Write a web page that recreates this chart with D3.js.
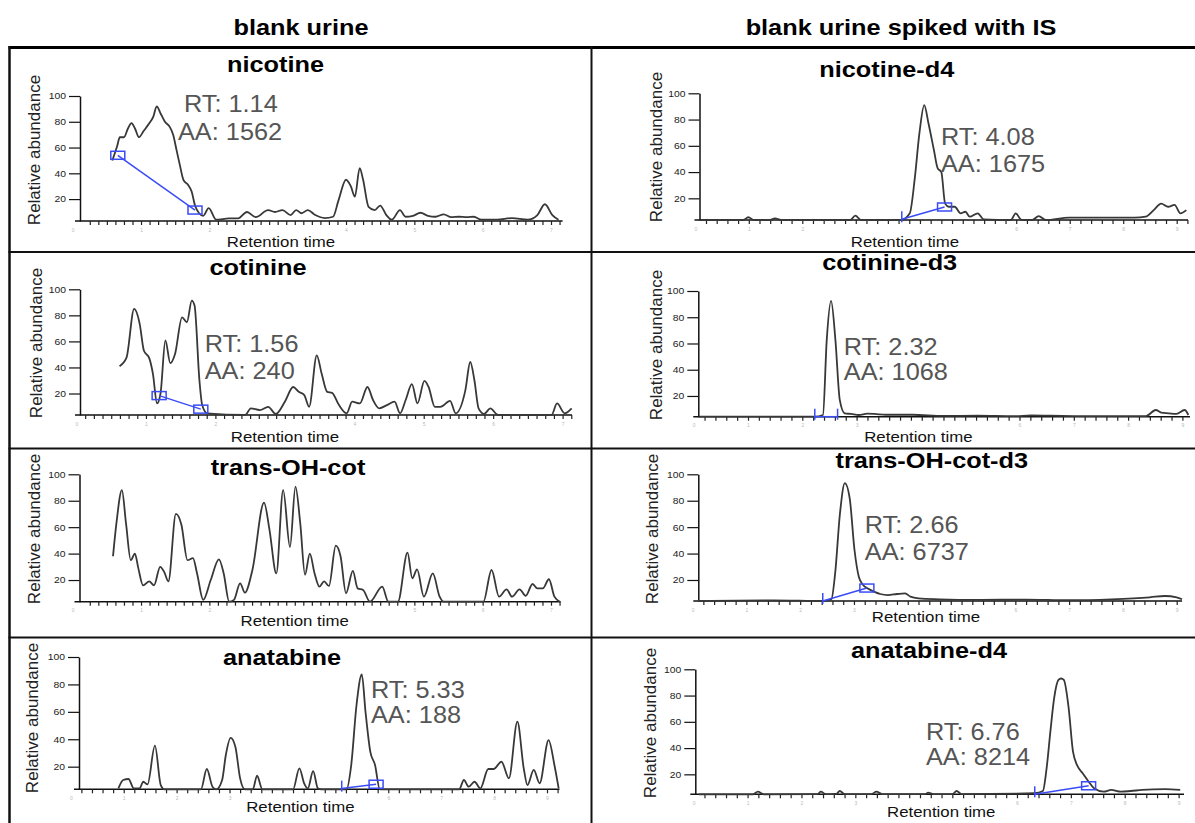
<!DOCTYPE html>
<html>
<head>
<meta charset="utf-8">
<script src="https://cdn.jsdelivr.net/npm/d3@7"></script>
<style>
body { margin: 0; background: #fff; }
text { font-family: Arial, "Liberation Sans", sans-serif; }
</style>
</head>
<body>
<svg id="chart" width="1195" height="823"></svg>
<script>
// column headers and panel titles
var headers = ["blank urine", "blank urine spiked with IS"];
var titles = ["nicotine", "nicotine-d4", "cotinine", "cotinine-d3",
              "trans-OH-cot", "trans-OH-cot-d3", "anatabine", "anatabine-d4"];
var rtLabels = ["RT: 1.14", "RT: 4.08", "RT: 1.56", "RT: 2.32", null, "RT: 2.66", "RT: 5.33", "RT: 6.76"];
var aaLabels = ["AA: 1562", "AA: 1675", "AA: 240", "AA: 1068", null, "AA: 6737", "AA: 188", "AA: 8214"];
var yTicks = [20, 40, 60, 80, 100];
var xMax = [7, 9, 7, 9, 7, 9, 9, 9];

// traces: [retention time, relative abundance]
var nicotine = [[0.58,50],[0.65,61],[0.69,68],[0.75,68],[0.81,75],[0.86,79],[0.91,75],[0.97,68],[1.04,73],[1.11,78],
  [1.18,84],[1.23,92],[1.29,86],[1.35,80],[1.42,76],[1.47,70],[1.52,58],[1.57,46],[1.62,35],[1.69,31],[1.74,26],
  [1.79,15],[1.85,9],[1.91,7],[1.99,13],[2.10,4],[2.29,5],[2.42,5],[2.55,10],[2.68,6],[2.86,11.5],[2.96,10],
  [3.07,11.5],[3.19,7.6],[3.27,11.5],[3.35,9],[3.44,11.5],[3.55,7.6],[3.69,5.3],[3.81,6.3],[3.89,19],[4.00,35],
  [4.07,30],[4.13,22],[4.20,44],[4.25,35],[4.33,14],[4.42,11.5],[4.50,15],[4.59,7.6],[4.67,4],[4.79,11.5],
  [4.87,6.3],[4.98,7],[5.09,9.4],[5.20,7],[5.31,6.3],[5.43,8.2],[5.54,6],[5.65,6.3],[5.77,6],[5.87,6.3],[5.98,4],
  [6.21,4],[6.43,5.3],[6.66,4],[6.80,7.6],[6.91,16],[7.02,7.6],[7.11,4]];
var nicotineD4 = [[0.1,3.5],[0.9,3.5],[0.99,5.6],[1.1,3.5],[1.4,3.5],[1.49,4.8],[1.6,3.5],[2.9,3.5],[2.99,6.8],
  [3.1,3.5],[3.85,3.5],[4.01,8.6],[4.10,34],[4.19,69.6],[4.28,91],[4.36,77],[4.46,57],[4.53,43],[4.60,40],
  [4.67,16],[4.74,13.6],[4.85,13.6],[4.96,8.6],[5.05,9.8],[5.13,6],[5.28,8.6],[5.39,4],[5.9,3.5],[5.99,8.6],
  [6.1,3.5],[6.3,3.5],[6.42,6.5],[6.55,3.5],[6.99,5.3],[7.35,5.3],[8.21,5.3],[8.42,6],[8.57,11],[8.71,16],
  [8.84,13.6],[8.96,15],[9.07,8.6],[9.18,11]];
var cotinine = [[0.62,41],[0.72,47.5],[0.83,85],[0.91,73.5],[0.97,53],[1.05,46.8],[1.10,35.3],[1.16,12.4],[1.21,20],
  [1.28,60.8],[1.35,43.4],[1.42,50.6],[1.52,78.5],[1.59,74.7],[1.66,91.3],[1.70,87.5],[1.77,30.2],[1.81,11.1],
  [1.88,4.8],[2.43,3.5],[2.51,8.6],[2.64,7.3],[2.76,9.8],[2.87,4.3],[3.0,13.7],[3.12,25],[3.20,21.3],[3.28,18.8],
  [3.35,9.8],[3.46,49.3],[3.53,35.3],[3.61,21.3],[3.68,20.5],[3.78,11.1],[3.89,4.8],[3.97,13.7],[4.08,12.4],
  [4.19,25],[4.27,15],[4.36,8.6],[4.47,11.1],[4.58,13.7],[4.66,4.8],[4.74,15],[4.83,27.2],[4.91,12.4],[5.01,29.7],
  [5.07,25],[5.16,9.8],[5.24,9.8],[5.38,14.4],[5.46,4.8],[5.60,22.6],[5.67,44.2],[5.73,30.2],[5.79,8.6],[5.87,4.3],
  [5.96,8.6],[6.07,3.5],[6.84,3.5],[6.92,12.4],[7.03,4.8],[7.13,8.6]];
var cotinineD3 = [[0.1,4.2],[2.23,4.2],[2.38,5.5],[2.45,62.6],[2.53,92.4],[2.61,62.6],[2.69,17],[2.78,6.8],[2.90,6.3],
  [3.04,5.5],[3.2,6.5],[3.33,6.3],[3.54,5.7],[4.03,5.7],[4.6,4.8],[5.23,5],[5.9,4.6],[6.22,5.2],[6.57,5],[7.5,4.6],
  [8.33,4.7],[8.51,9.3],[8.61,7.3],[8.75,6.8],[8.89,6.3],[9.04,9.3],[9.11,5.5]];
var transOHcot = [[0.59,38],[0.64,63],[0.72,88],[0.78,63],[0.85,35],[0.91,40],[0.96,29],[1.03,16],[1.12,19],[1.19,16],
  [1.28,30],[1.34,26],[1.40,19],[1.51,70],[1.59,62],[1.68,35],[1.76,36.5],[1.82,25],[1.91,5],[2.02,20],[2.14,35.7],
  [2.21,25],[2.29,3.6],[2.36,5],[2.45,17.5],[2.52,10.4],[2.63,27.6],[2.80,78.6],[2.88,58],[2.98,25],[3.08,88],
  [3.18,45],[3.26,90.7],[3.33,63],[3.40,24],[3.47,40],[3.54,25],[3.61,15],[3.68,19],[3.75,15.5],[3.85,46],[3.92,38],
  [4.0,10],[4.10,27],[4.17,13.7],[4.25,12.5],[4.35,3.6],[4.53,15],[4.62,3.6],[4.76,3.6],[4.90,40.7],[4.97,21.3],
  [5.04,28],[5.14,7.4],[5.27,25],[5.37,7.4],[5.43,3.6],[6.01,3.6],[6.13,27.6],[6.24,7.4],[6.35,13],[6.43,7.4],
  [6.54,13],[6.63,8],[6.73,17],[6.80,13.7],[6.88,13.7],[6.97,20.6],[7.05,7.4],[7.13,3.6]];
var transOHcotD3 = [[0.1,4.1],[1.5,4.6],[2.45,4.1],[2.58,5.4],[2.65,25],[2.74,70.5],[2.83,93.3],[2.92,82],[3.01,42.7],
  [3.09,22.5],[3.17,16.2],[3.25,13.7],[3.38,11.1],[3.49,9.4],[3.63,8.6],[3.80,9.4],[3.95,9.9],[4.05,7.4],[4.20,6.1],
  [4.59,5.4],[5.30,4.9],[6.2,5.2],[7.0,4.7],[7.79,5.4],[8.50,6.9],[8.78,7.9],[9.00,6.9],[9.10,5.4]];
var anatabine = [[0.90,4.2],[0.99,10.3],[1.09,11],[1.19,4.2],[1.30,4.2],[1.37,9],[1.45,7.1],[1.59,35.3],[1.70,6.6],
  [1.77,3.5],[2.46,3.5],[2.57,18.3],[2.68,5.2],[2.75,3.5],[2.86,10.3],[2.93,28.5],[3.02,41],[3.11,34.6],[3.20,11.5],
  [3.29,3.5],[3.44,3.5],[3.52,13.4],[3.62,3.5],[4.20,3.5],[4.32,18.8],[4.41,7.9],[4.48,4.2],[4.58,16.8],[4.67,4.2],
  [4.74,3.5],[5.21,3.5],[5.30,21.2],[5.40,65],[5.50,87.3],[5.57,60],[5.66,31],[5.75,21.2],[5.84,3.5],[7.34,3.5],
  [7.43,10.3],[7.52,5.4],[7.63,9],[7.74,4.2],[7.89,18.3],[7.99,18.3],[8.14,23.6],[8.28,11.5],[8.44,52.8],[8.56,18.8],
  [8.63,6.6],[8.75,17.6],[8.86,7.9],[9.03,39.4],[9.14,21.2],[9.22,4.2]];
var anatabineD4 = [[0.1,4.8],[1.1,4.8],[1.19,6.8],[1.3,4.8],[2.3,5],[2.36,6.8],[2.45,5],[2.65,5.2],[2.71,7.3],[2.8,5],
  [3.3,5],[3.39,6.8],[3.5,5],[4.3,5],[4.35,6],[4.45,5],[4.8,5],[4.88,7.3],[4.97,5],[6.33,5.6],[6.48,7.3],[6.55,24.6],
  [6.62,52.5],[6.69,78],[6.77,91.9],[6.82,93],[6.87,91.9],[6.96,70.3],[7.04,37.3],[7.13,25.8],[7.22,20.8],[7.33,14.4],
  [7.43,9.4],[7.61,6.8],[7.75,8.1],[7.93,6.8],[8.11,7.3],[8.32,8.1],[8.53,8.6],[8.75,8.8],[9.03,8.1]];

var traces = [nicotine, nicotineD4, cotinine, cotinineD3, transOHcot, transOHcotD3, anatabine, anatabineD4];

// integration baseline marks: [rt, abundance, kind]
var peakStart = [[0.66,54,"box"],[3.86,4,"tick"],[1.19,18.4,"box"],[2.23,4.2,"tick"],null,[2.42,4.1,"tick"],[5.12,4,"tick"],[6.33,4.8,"tick"]];
var peakEnd = [[1.79,11.5,"box"],[4.66,13.4,"box"],[1.79,8,"box"],[2.65,4.2,"tick"],null,[3.24,13.9,"box"],[5.77,7.2,"box"],[7.33,11.3,"box"]];

// panel layout (pixels)
var panels = [
 {x0:72.7, xN:551, base:221, top:96, bv:3, ax:80, xe:562.6, tx:275.5, ty:71.5, lx:40, ly:150, rx:281, ry:247, kx:184, ky:112, ax2:178, ay:140},
 {x0:695.3, xN:1176.7, base:220, top:93.3, bv:3.5, ax:699.5, xe:1188, tx:886.8, ty:76.7, lx:662, ly:147, rx:905, ry:246.5, kx:941, ky:145, ax2:941, ay:172},
 {x0:76.5, xN:562.6, base:415, top:289.3, bv:3.5, ax:80, xe:572, tx:258, ty:275, lx:42, ly:343, rx:285, ry:442, kx:204.7, ky:352, ax2:204.7, ay:379},
 {x0:693.7, xN:1182.4, base:416.7, top:291, bv:4.2, ax:698.3, xe:1190, tx:889.7, ty:270, lx:662, ly:345, rx:918.4, ry:442, kx:843.8, ky:355, ax2:843.8, ay:380},
 {x0:72.7, xN:551, base:601.7, top:474.3, bv:3.6, ax:79.5, xe:560.6, tx:288, ty:475, lx:40, ly:529, rx:294.7, ry:625.5},
 {x0:692.6, xN:1176.7, base:601, top:474.3, bv:4.1, ax:698.3, xe:1182, tx:931.8, ty:468, lx:658, ly:529, rx:926, ry:621.5, kx:864.8, ky:533.3, ax2:864.8, ay:560},
 {x0:70.8, xN:547, base:789.3, top:657, bv:3.5, ax:79, xe:559.5, tx:282, ty:665, lx:38, ly:718, rx:300.4, ry:812, kx:371, ky:698, ax2:371, ay:723},
 {x0:693.7, xN:1178.6, base:794.3, top:669.3, bv:4.8, ax:695.3, xe:1184, tx:929, ty:658, lx:656, ly:723, rx:941.3, ry:816.5, kx:926, ky:740, ax2:926, ay:765}
];

var blue = "#3a4cf5";
var svg = d3.select("#chart");
svg.append("rect").attr("width", 1195).attr("height", 823).attr("fill", "#fff");

// widen text a little, the source picture is stretched horizontally
function stretch(sel, k) {
  sel.each(function() {
    var w = this.getComputedTextLength();
    d3.select(this).attr("textLength", w * k).attr("lengthAdjust", "spacingAndGlyphs");
  });
}

svg.selectAll(".hdr").data(headers).enter().append("text")
  .attr("x", (d, i) => [301, 901][i]).attr("y", 35)
  .attr("text-anchor", "middle").attr("font-size", 22).attr("font-weight", "bold")
  .text(d => d).call(stretch, 1.15);

// table lines
var rows = [252, 448.5, 637.5];
svg.append("line").attr("x1", 8.5).attr("x2", 1195).attr("y1", 47.5).attr("y2", 47.5).attr("stroke", "#000").attr("stroke-width", 3);
rows.forEach(r => svg.append("line").attr("x1", 8.5).attr("x2", 1195).attr("y1", r).attr("y2", r).attr("stroke", "#111").attr("stroke-width", 2));
[9.5, 591.5].forEach(c => svg.append("line").attr("x1", c).attr("x2", c).attr("y1", 46).attr("y2", 823).attr("stroke", "#111").attr("stroke-width", c < 20 ? 2.5 : 2));

panels.forEach(function(p, i) {
  var n = xMax[i];
  var x = d3.scaleLinear().domain([0, n]).range([p.x0, p.xN]);
  var y = d3.scaleLinear().domain([p.bv, 100]).range([p.base, p.top]);
  var g = svg.append("g");

  // x axis
  g.append("line").attr("x1", p.ax - 5).attr("x2", p.xe).attr("y1", p.base).attr("y2", p.base)
    .attr("stroke", "#111").attr("stroke-width", 1.5);
  var step = n == 7 ? 0.125 : 0.2;
  var minor = d3.range(0, n + 0.5, step).filter(t => x(t) > p.ax + 2 && x(t) <= p.xe);
  var xa = g.append("g").attr("transform", "translate(0," + p.base + ")")
    .call(d3.axisBottom(x).tickValues(minor).tickSize(4).tickFormat(""));
  xa.select(".domain").remove();
  xa.selectAll("line").attr("stroke", "#222").attr("stroke-width", 1.2);
  var xl = g.append("g").attr("transform", "translate(0," + p.base + ")")
    .call(d3.axisBottom(x).tickValues(d3.range(0, n + 1)).tickSize(0).tickPadding(7).tickFormat(d3.format("d")));
  xl.select(".domain").remove();
  xl.selectAll("text").attr("font-size", 5).attr("fill", "#bbb");

  // y axis
  var ya = g.append("g").attr("transform", "translate(" + p.ax + ",0)")
    .call(d3.axisLeft(y).tickValues(yTicks).tickSize(11).tickSizeOuter(0).tickPadding(3));
  ya.select(".domain").attr("stroke", "#111").attr("stroke-width", 1.5);
  ya.selectAll("line").attr("stroke", "#111").attr("stroke-width", 1.2);
  ya.selectAll("text").attr("font-size", 9).attr("fill", "#222").call(stretch, 1.15);

  // trace
  var line = d3.line().x(d => x(d[0])).y(d => y(d[1])).curve(d3.curveMonotoneX);
  g.append("path").datum(traces[i]).attr("d", line)
    .attr("fill", "none").attr("stroke", "#383838").attr("stroke-width", 1.8).attr("stroke-linejoin", "round");

  // peak integration marks
  var s = peakStart[i], e = peakEnd[i];
  if (s && e) {
    g.append("line").attr("x1", x(s[0])).attr("y1", y(s[1])).attr("x2", x(e[0])).attr("y2", y(e[1]))
      .attr("stroke", blue).attr("stroke-width", 1.5);
    [s, e].forEach(function(m) {
      if (m[2] == "box") {
        g.append("rect").attr("x", x(m[0]) - 7).attr("y", y(m[1]) - 4).attr("width", 14).attr("height", 8)
          .attr("fill", "none").attr("stroke", blue).attr("stroke-width", 1.5);
      } else {
        g.append("line").attr("x1", x(m[0])).attr("x2", x(m[0])).attr("y1", y(m[1]) + 3).attr("y2", y(m[1]) - 8)
          .attr("stroke", blue).attr("stroke-width", 1.5);
      }
    });
  }

  // texts
  g.append("text").attr("x", p.tx).attr("y", p.ty).attr("text-anchor", "middle")
    .attr("font-size", 22).attr("font-weight", "bold").text(titles[i]).call(stretch, 1.15);
  g.append("text").attr("transform", "translate(" + p.lx + "," + p.ly + ") rotate(-90)")
    .attr("text-anchor", "middle").attr("font-size", 17).attr("fill", "#222").text("Relative abundance");
  var rt = g.append("text").attr("x", p.rx).attr("y", p.ry).attr("text-anchor", "middle")
    .attr("font-size", 15).attr("fill", "#111").text("Retention time").call(stretch, 1.12);

  // tiny tick numbers hidden behind the axis title, as in the source
  var b = rt.node().getBBox();
  xl.selectAll(".tick").each(function(t) {
    var tx = x(t);
    if (tx > b.x - 4 && tx < b.x + b.width + 4) d3.select(this).remove();
  });

  if (rtLabels[i]) {
    g.append("text").attr("x", p.kx).attr("y", p.ky).attr("font-size", 23).attr("fill", "#555")
      .text(rtLabels[i]).call(stretch, 1.1);
    g.append("text").attr("x", p.ax2).attr("y", p.ay).attr("font-size", 23).attr("fill", "#555")
      .text(aaLabels[i]).call(stretch, 1.1);
  }
});
</script>
</body>
</html>
